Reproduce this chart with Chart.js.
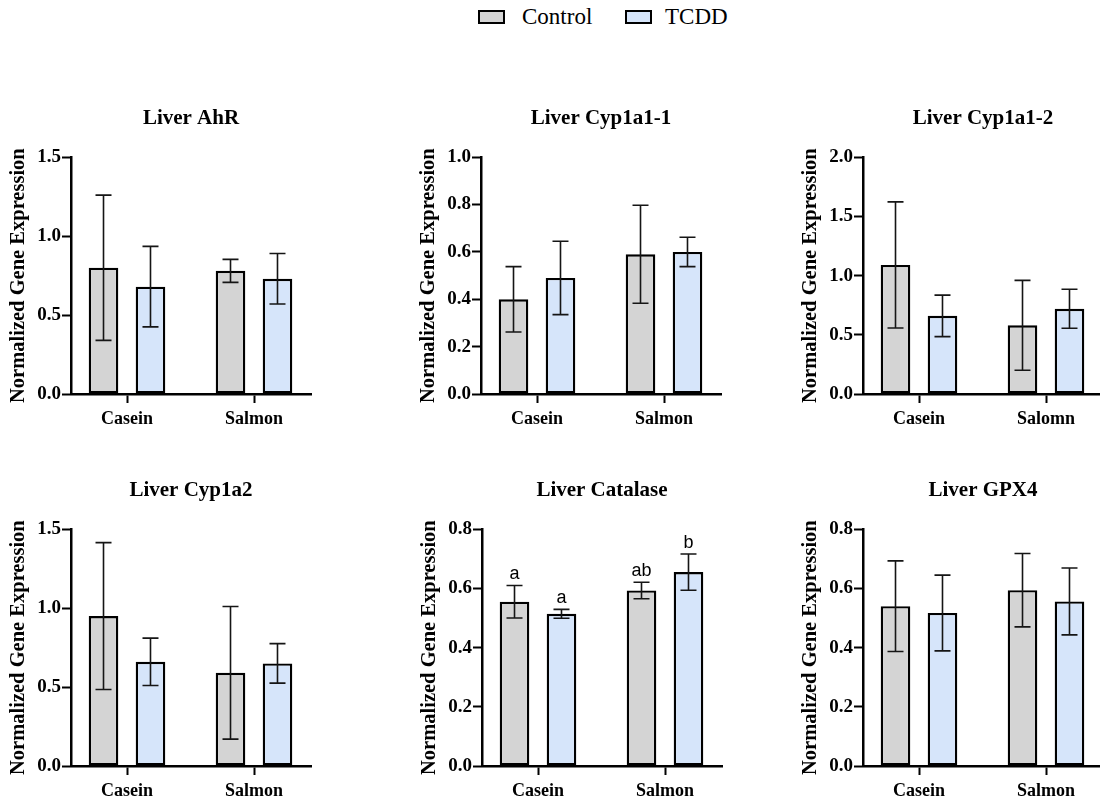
<!DOCTYPE html>
<html>
<head>
<meta charset="utf-8">
<script src="https://cdn.jsdelivr.net/npm/chart.js@4.4.0/dist/chart.umd.min.js"></script>
<style>
  body { margin: 0; background: #fff; width: 1100px; height: 803px; overflow: hidden; position: relative; }
  canvas { position: absolute; }
  .key { position: absolute; top: 10px; width: 23px; height: 10px; border: 2px solid #000; }
  .keyText { position: absolute; top: 5px; font-family: "Liberation Serif", "Times New Roman", serif; font-size: 23px; line-height: 23px; color: #000; }
</style>
</head>
<body>
<div class="key" style="left:478px; background:#d4d4d4"></div>
<div class="keyText" style="left:522px">Control</div>
<div class="key" style="left:625px; background:#d6e5fa"></div>
<div class="keyText" style="left:665px">TCDD</div>

<canvas id="c0"></canvas>
<canvas id="c1"></canvas>
<canvas id="c2"></canvas>
<canvas id="c3"></canvas>
<canvas id="c4"></canvas>
<canvas id="c5"></canvas>

<script>
// data: mean and SD, [Casein, Salmon]
const groups = ['Casein', 'Salmon'];
const groups2 = ['Casein', 'Salomn'];

const ahrControl = [0.80, 0.78];
const ahrControlSd = [0.46, 0.073];
const ahrTcdd = [0.68, 0.73];
const ahrTcddSd = [0.255, 0.16];

const cyp11Control = [0.40, 0.59];
const cyp11ControlSd = [0.138, 0.207];
const cyp11Tcdd = [0.49, 0.60];
const cyp11TcddSd = [0.155, 0.062];

const cyp12Control = [1.09, 0.58];
const cyp12ControlSd = [0.533, 0.38];
const cyp12Tcdd = [0.66, 0.72];
const cyp12TcddSd = [0.175, 0.165];

const cyp1a2Control = [0.95, 0.59];
const cyp1a2ControlSd = [0.465, 0.42];
const cyp1a2Tcdd = [0.66, 0.65];
const cyp1a2TcddSd = [0.15, 0.125];

const catControl = [0.555, 0.593];
const catControlSd = [0.055, 0.028];
const catTcdd = [0.514, 0.655];
const catTcddSd = [0.015, 0.061];
const catControlLetters = ['a', 'ab'];
const catTcddLetters = ['a', 'b'];

const gpxControl = [0.54, 0.594];
const gpxControlSd = [0.153, 0.124];
const gpxTcdd = [0.517, 0.556];
const gpxTcddSd = [0.128, 0.113];

const panels = [
    {title: 'Liver AhR', max: 1.5, step: 0.5, names: groups, c: ahrControl, cs: ahrControlSd, t: ahrTcdd, ts: ahrTcddSd, left: 71, top: 157},
    {title: 'Liver Cyp1a1-1', max: 1.0, step: 0.2, names: groups, c: cyp11Control, cs: cyp11ControlSd, t: cyp11Tcdd, ts: cyp11TcddSd, left: 481, top: 157},
    {title: 'Liver Cyp1a1-2', max: 2.0, step: 0.5, names: groups2, c: cyp12Control, cs: cyp12ControlSd, t: cyp12Tcdd, ts: cyp12TcddSd, left: 863, top: 157},
    {title: 'Liver Cyp1a2', max: 1.5, step: 0.5, names: groups, c: cyp1a2Control, cs: cyp1a2ControlSd, t: cyp1a2Tcdd, ts: cyp1a2TcddSd, left: 71, top: 529},
    {title: 'Liver Catalase', max: 0.8, step: 0.2, names: groups, c: catControl, cs: catControlSd, t: catTcdd, ts: catTcddSd, cl: catControlLetters, tl: catTcddLetters, left: 482, top: 529},
    {title: 'Liver GPX4', max: 0.8, step: 0.2, names: groups, c: gpxControl, cs: gpxControlSd, t: gpxTcdd, ts: gpxTcddSd, left: 863, top: 529}
];

const serif = 'Liberation Serif';
const yAxisW = 71, titleH = 57, xAxisH = 40, plotW = 240, plotH = 237, rightPad = 12;

// error bars and letters on top of the bars
const errorBars = {
    id: 'errorBars',
    afterDatasetsDraw(chart) {
        const ctx = chart.ctx;
        const y = chart.scales.y;
        chart.data.datasets.forEach((ds, i) => {
            chart.getDatasetMeta(i).data.forEach((bar, j) => {
                const m = ds.data[j].y, sd = ds.sd[j];
                const yt = y.getPixelForValue(m + sd);
                const yb = y.getPixelForValue(m - sd);
                ctx.save();
                ctx.strokeStyle = '#151515';
                ctx.lineWidth = 1.6;
                ctx.beginPath();
                ctx.moveTo(bar.x, yt); ctx.lineTo(bar.x, yb);
                ctx.moveTo(bar.x - 8, yt); ctx.lineTo(bar.x + 8, yt);
                ctx.moveTo(bar.x - 8, yb); ctx.lineTo(bar.x + 8, yb);
                ctx.stroke();
                if (ds.letters) {
                    ctx.fillStyle = '#000';
                    ctx.font = '18px "Liberation Sans"';
                    ctx.textAlign = 'center';
                    ctx.textBaseline = 'alphabetic';
                    ctx.fillText(ds.letters[j], bar.x, yt - 6);
                }
                ctx.restore();
            });
        });
    }
};

panels.forEach((p, k) => {
    const cv = document.getElementById('c' + k);
    cv.width = yAxisW + plotW + rightPad;
    cv.height = titleH + plotH + xAxisH;
    cv.style.left = (p.left - yAxisW) + 'px';
    cv.style.top = (p.top - titleH) + 'px';

    new Chart(cv, {
        type: 'bar',
        data: {
            datasets: [
                {label: 'Control', data: p.c.map((v, i) => ({x: i + 1, y: v})), sd: p.cs, letters: p.cl,
                 backgroundColor: '#d4d4d4', borderColor: '#000', borderWidth: 2.4, borderSkipped: false,
                 categoryPercentage: 0.74, barPercentage: 0.63},
                {label: 'TCDD', data: p.t.map((v, i) => ({x: i + 1, y: v})), sd: p.ts, letters: p.tl,
                 backgroundColor: '#d6e5fa', borderColor: '#000', borderWidth: 2.4, borderSkipped: false,
                 categoryPercentage: 0.74, barPercentage: 0.63}
            ]
        },
        options: {
            responsive: false,
            animation: false,
            layout: {padding: {left: 0, right: rightPad, top: 0, bottom: 0}},
            plugins: {
                legend: {display: false},
                tooltip: {enabled: false},
                title: {
                    display: true, text: p.title, fullSize: false, color: '#000',
                    font: {family: serif, size: 21, weight: 'bold'},
                    padding: {top: 6, bottom: 26}
                }
            },
            scales: {
                x: {
                    type: 'linear',
                    offset: false,
                    bounds: 'data',
                    min: 1 - 56 / 127, max: 2 + 57 / 127,
                    afterBuildTicks: s => { s.ticks = [{value: 1}, {value: 2}]; },
                    afterFit: s => { s.height = xAxisH; },
                    ticks: {
                        callback: v => p.names[v - 1],
                        color: '#000', padding: 6, maxRotation: 0,
                        font: {family: serif, size: 18, weight: 'bold'}
                    },
                    grid: {offset: false, drawOnChartArea: false, tickLength: 9, tickWidth: 2, color: '#000'},
                    border: {color: '#000', width: 2.5}
                },
                y: {
                    min: 0, max: p.max,
                    afterFit: s => { s.width = yAxisW; },
                    ticks: {
                        stepSize: p.step,
                        callback: v => v.toFixed(1),
                        color: '#000', padding: 1,
                        font: {family: serif, size: 19, weight: 'bold'}
                    },
                    grid: {drawOnChartArea: false, tickLength: 9, tickWidth: 2, color: '#000'},
                    border: {color: '#000', width: 2.5},
                    title: {
                        display: true, text: 'Normalized Gene Expression', color: '#000',
                        font: {family: serif, size: 20.5, weight: 'bold'},
                        padding: {top: 6, bottom: 0}
                    }
                }
            }
        },
        plugins: [errorBars]
    });
});
</script>
</body>
</html>
